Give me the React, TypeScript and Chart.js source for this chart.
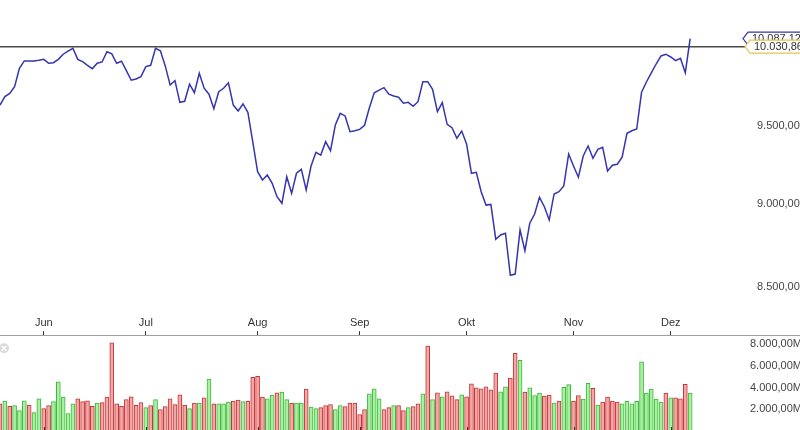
import React, { useEffect, useRef } from "react";
import { Chart, registerables } from "chart.js";

Chart.register(...registerables);

// ---- data ----
const monthTickIndex = [9, 30, 53, 74, 96, 118, 138];
const monthLabels = ["Jun", "Jul", "Aug", "Sep", "Okt", "Nov", "Dez"];

const closes = [
  9636, 9692, 9714, 9758, 9883, 9933, 9933, 9933, 9937, 9944,
  9917, 9921, 9944, 9979, 10001, 10020, 9944, 9928, 9903, 9880,
  9917, 9926, 9996, 9981, 9917, 9931, 9867, 9802, 9810, 9826,
  9894, 9903, 10020, 10003, 9899, 9770, 9799, 9654, 9661, 9775,
  9718, 9849, 9748, 9708, 9612, 9725, 9748, 9785, 9636, 9597,
  9643, 9588, 9396, 9204, 9152, 9183, 9131, 9047, 9006, 9172,
  9068, 9194, 9219, 9089, 9240, 9328, 9310, 9396, 9338, 9505,
  9581, 9564, 9461, 9467, 9476, 9503, 9618, 9718, 9736, 9752,
  9708, 9696, 9688, 9648, 9654, 9628, 9658, 9792, 9792, 9741,
  9592, 9652, 9509, 9487, 9418, 9465, 9381, 9194, 9200, 9078,
  8995, 8999, 8786, 8812, 8822, 8571, 8578, 8842, 8717, 8883,
  8940, 9043, 8985, 8903, 9064, 9078, 9114, 9317, 9240, 9169,
  9304, 9368, 9289, 9347, 9360, 9208, 9245, 9251, 9296, 9450,
  9467, 9478, 9721, 9790, 9851, 9912, 9967, 9979, 9960, 9935,
  9951, 9853, 10087.12,
];

const volumes = [
  2520, 2765, 2280, 2340, 1885, 2795, 2400, 1700, 2980, 2065,
  2340, 2705, 4530, 3130, 1610, 2520, 2980, 2705, 2795, 2280,
  2585, 2615, 3130, 8140, 2520, 2280, 2890, 3160, 2370, 2615,
  2160, 2340, 2890, 1975, 2250, 2980, 2430, 3340, 2400, 2065,
  2585, 2585, 3070, 4800, 2520, 2520, 2520, 2675, 2765, 2855,
  2705, 2765, 4950, 5045, 3130, 2980, 3310, 3525, 3585, 2890,
  2585, 2585, 2585, 3860, 2220, 2065, 2160, 2340, 2430, 1975,
  2340, 2250, 2585, 2585, 1520, 1975, 3430, 3890, 2980, 1975,
  2160, 2340, 2340, 1885, 2160, 2250, 2520, 3430, 7840, 2890,
  3525, 3160, 3615, 3250, 2890, 3340, 3160, 4345, 3980, 3890,
  4070, 3800, 5350, 3615, 4070, 4890, 7170, 6535, 3585, 3980,
  3280, 3495, 3220, 3310, 2585, 2765, 4040, 4285, 2765, 3280,
  2945, 4405, 3950, 2400, 2675, 3130, 2765, 2675, 2520, 2735,
  2520, 2735, 6380, 3495, 3860, 2945, 2675, 3495, 3070, 3070,
  2980, 4315, 3495,
];

// "G" = green (up) bar, "R" = red (down) bar
const volumeDirection = (
  "RGRGGGRGGR" + "RGGGGGRRRR" + "GRRRRRRRRR" + "GRGRRRRRRG" + "RGRGRGGGRR" +
  "GRRRRGGRGG" + "RGGRGGRRRG" + "GRRRRRGGGR" + "RGRRGRRGRG" + "RGRRRGRRRR" +
  "RRRGGRRGRG" + "GGRRGRGGRR" + "GGRGRRRRGG" + "GGGGGGGRGR" + "RRG"
).split("");

const priceTicks = [8500, 9000, 9500];
const volumeTicks = [2000, 4000, 6000, 8000];
const referenceLevel = 10030.86;
const lastClose = closes[closes.length - 1];

// ---- layout constants ----
const X_MAX = 153.9;
const P_MIN = 8356.8;
const P_MAX = 10358.4;
const V_MAX = 8845;
const AXIS_W = 52;
const FONT = "'Liberation Sans', Arial, sans-serif";

function fmtDE(v: number): string {
  const [i, d] = v.toFixed(2).split(".");
  return i.replace(/\B(?=(\d{3})+(?!\d))/g, ".") + "," + d;
}

function drawTag(ctx: CanvasRenderingContext2D, x: number, y: number, text: string, border: string) {
  const h = 13;
  const p = 5;
  ctx.save();
  ctx.beginPath();
  ctx.moveTo(x, y);
  ctx.lineTo(x + p, y - h / 2);
  ctx.lineTo(812, y - h / 2);
  ctx.lineTo(812, y + h / 2);
  ctx.lineTo(x + p, y + h / 2);
  ctx.closePath();
  ctx.fillStyle = "#ffffff";
  ctx.fill();
  ctx.lineWidth = 1.2;
  ctx.strokeStyle = border;
  ctx.stroke();
  ctx.fillStyle = "#333";
  ctx.font = `11px ${FONT}`;
  ctx.textAlign = "left";
  ctx.textBaseline = "middle";
  ctx.fillText(text, x + p + 4, y + 0.5);
  ctx.restore();
}

const noPad = (s: any) => {
  s.paddingTop = 0;
  s.paddingBottom = 0;
  s.paddingLeft = 0;
  s.paddingRight = 0;
};

const refLinePlugin = {
  id: "refLine",
  beforeDatasetsDraw(chart: any) {
    const { ctx, chartArea, scales } = chart;
    const y = scales.y.getPixelForValue(referenceLevel);
    ctx.save();
    ctx.strokeStyle = "#4a4a4a";
    ctx.lineWidth = 1.5;
    ctx.beginPath();
    ctx.moveTo(chartArea.left, y);
    ctx.lineTo(chartArea.right - 3, y);
    ctx.stroke();
    ctx.restore();
  },
  afterDraw(chart: any) {
    const { ctx, chartArea, scales } = chart;
    const yLast = scales.y.getPixelForValue(lastClose);
    const yRef = scales.y.getPixelForValue(referenceLevel);
    drawTag(ctx, chartArea.right - 5, yLast, fmtDE(lastClose), "#3535b0");
    drawTag(ctx, chartArea.right - 3, yRef, fmtDE(referenceLevel), "#e6c656");
  },
};

const volumeDecorPlugin = {
  id: "volumeDecor",
  afterDraw(chart: any) {
    const { ctx, chartArea, scales } = chart;
    ctx.save();
    // full-width axis line
    ctx.strokeStyle = "#a0a0a0";
    ctx.lineWidth = 1;
    ctx.beginPath();
    ctx.moveTo(0, Math.round(chartArea.top) + 0.5);
    ctx.lineTo(chart.width, Math.round(chartArea.top) + 0.5);
    ctx.stroke();
    // bottom month ticks
    ctx.strokeStyle = "#333";
    for (const v of monthTickIndex) {
      const x = Math.round(scales.x.getPixelForValue(v)) + 0.5;
      ctx.beginPath();
      ctx.moveTo(x, chartArea.bottom - 4);
      ctx.lineTo(x, chartArea.bottom);
      ctx.stroke();
    }
    // small close icon
    const cx = 4, cy = chartArea.top + 13;
    ctx.fillStyle = "#d9d9d9";
    ctx.beginPath();
    ctx.arc(cx, cy, 5, 0, Math.PI * 2);
    ctx.fill();
    ctx.strokeStyle = "#ffffff";
    ctx.lineWidth = 1.5;
    ctx.beginPath();
    ctx.moveTo(cx - 2.5, cy - 2.5);
    ctx.lineTo(cx + 2.5, cy + 2.5);
    ctx.moveTo(cx + 2.5, cy - 2.5);
    ctx.lineTo(cx - 2.5, cy + 2.5);
    ctx.stroke();
    ctx.restore();
  },
};

export default function App() {
  const priceRef = useRef<HTMLCanvasElement>(null);
  const volRef = useRef<HTMLCanvasElement>(null);

  useEffect(() => {
    document.body.style.margin = "0";
    const priceChart = new Chart(priceRef.current as HTMLCanvasElement, {
      type: "line",
      data: {
        datasets: [
          {
            data: closes.map((c, i) => ({ x: i, y: c })),
            borderColor: "#3535b0",
            borderWidth: 1.5,
            pointRadius: 0,
            tension: 0,
            fill: false,
          },
        ],
      },
      options: {
        animation: false,
        responsive: false,
        events: [],
        layout: { padding: 0 },
        plugins: { legend: { display: false }, tooltip: { enabled: false } },
        scales: {
          x: { type: "linear", min: 0, max: X_MAX, display: false, offset: false },
          y: {
            type: "logarithmic",
            position: "right",
            min: P_MIN,
            max: P_MAX,
            grid: { display: false, drawTicks: false },
            border: { display: false },
            afterBuildTicks: (s: any) => {
              s.ticks = priceTicks.map((v) => ({ value: v }));
            },
            afterFit: (s: any) => {
              s.width = AXIS_W;
              noPad(s);
            },
            ticks: {
              padding: 9,
              color: "#444",
              font: { family: FONT, size: 11 },
              callback: (v: any) => fmtDE(Number(v)),
            },
          },
        },
      } as any,
      plugins: [refLinePlugin],
    });

    const volChart = new Chart(volRef.current as HTMLCanvasElement, {
      type: "bar",
      data: {
        datasets: [
          {
            data: volumes.map((v, i) => ({ x: i, y: v })),
            backgroundColor: volumeDirection.map((d) => (d === "G" ? "#a9f0a0" : "#f4a7a7")),
            borderColor: volumeDirection.map((d) => (d === "G" ? "#3cb83c" : "#c43535")),
            borderWidth: 1,
            barThickness: 4,
          },
        ],
      },
      options: {
        animation: false,
        responsive: false,
        events: [],
        layout: { padding: { top: 2, bottom: 1, left: 0, right: 0 } },
        plugins: { legend: { display: false }, tooltip: { enabled: false } },
        scales: {
          x: {
            type: "linear",
            position: "top",
            min: 0,
            max: X_MAX,
            offset: false,
            afterBuildTicks: (s: any) => {
              s.ticks = monthTickIndex.map((v) => ({ value: v }));
            },
            afterFit: (s: any) => noPad(s),
            grid: { offset: false, drawOnChartArea: false, drawTicks: true, tickLength: 4, color: "#333" },
            border: { display: false },
            ticks: {
              padding: 2,
              autoSkip: false,
              maxRotation: 0,
              color: "#333",
              font: { family: FONT, size: 11 },
              callback: (v: any) => monthLabels[monthTickIndex.indexOf(Number(v))],
            },
          },
          y: {
            position: "right",
            min: 0,
            max: V_MAX,
            grid: { display: false, drawTicks: false },
            border: { display: false },
            afterBuildTicks: (s: any) => {
              s.ticks = volumeTicks.map((v) => ({ value: v }));
            },
            afterFit: (s: any) => {
              s.width = AXIS_W;
              noPad(s);
            },
            ticks: {
              padding: 2,
              color: "#444",
              font: { family: FONT, size: 11 },
              callback: (v: any) => fmtDE(Number(v)) + "M",
            },
          },
        },
      } as any,
      plugins: [volumeDecorPlugin],
    });

    return () => {
      priceChart.destroy();
      volChart.destroy();
    };
  }, []);

  return (
    <div style={{ position: "fixed", left: 0, top: 0, width: 800, height: 430, background: "#fff", overflow: "hidden" }}>
      <canvas
        ref={priceRef}
        width={800}
        height={312}
        style={{ position: "absolute", left: 0, top: 0, width: 800, height: 312 }}
      />
      <canvas
        ref={volRef}
        width={800}
        height={120}
        style={{ position: "absolute", left: 0, top: 312, width: 800, height: 120 }}
      />
    </div>
  );
}
